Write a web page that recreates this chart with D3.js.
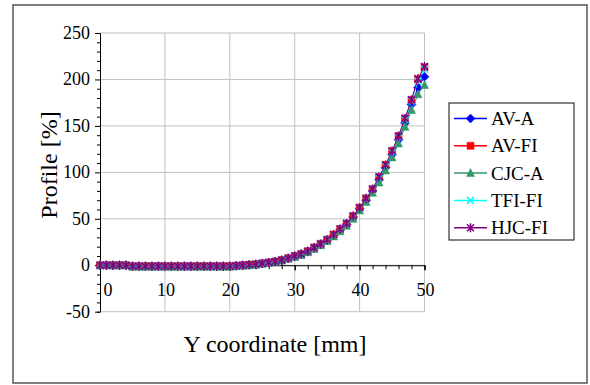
<!DOCTYPE html>
<html>
<head>
<meta charset="utf-8">
<script src="https://cdn.jsdelivr.net/npm/d3@7"></script>
<style>
  body { margin: 0; background: #fff; }
  svg text { font-family: 'Liberation Serif', 'Times New Roman', serif; fill: #000; }
</style>
</head>
<body>
<div id="chart"></div>
<script>
const yCoord = [0, 1, 2, 3, 4, 5, 6, 7, 8, 9, 10, 11, 12, 13, 14, 15, 16, 17, 18, 19, 20,
  21, 22, 23, 24, 25, 26, 27, 28, 29, 30, 31, 32, 33, 34, 35, 36, 37, 38, 39, 40,
  41, 42, 43, 44, 45, 46, 47, 48, 49, 50]

const avA = [0, 0, 0, 0, 0, -1, -1, -1, -1, -1, -1, -1, -1, -1, -1, -1, -1, -1, -1, -1, -1,
  -0.5, 0, 0.5, 1, 2, 3, 4, 5.5, 7.5, 9.5, 12, 15, 18.5, 22.5, 27, 32, 38, 44, 52, 61,
  70, 80, 92, 105, 119, 135, 153, 173, 191, 203]
const avFI = [0, 0, 0, 0, 0, -1, -1, -1, -1, -1, -1, -1, -1, -1, -1, -1, -1, -1, -1, -1, -1,
  -0.5, 0, 0.5, 1, 2, 3, 4, 5.5, 7.5, 10, 12, 15, 19, 23, 27.5, 33, 39, 45, 53, 62,
  72, 82, 95, 108, 123, 139, 158, 178, 200, 213]
const cjcA = [0, 0, 0, 0, 0, -1.5, -1.5, -1.5, -1.5, -1.5, -1.5, -1.5, -1.5, -1.5, -1.5, -1.5, -1.5, -1.5, -1.5, -1.5, -1.5,
  -1, -0.5, 0, 0.5, 1.5, 2.5, 3.5, 5, 7, 9, 11, 14, 17.5, 21.5, 26, 31, 36.5, 42.5, 50, 59,
  68, 78, 89, 102, 116, 131, 149, 167, 184, 194]
const tfiFI = [0, 0, 0, 0, 0, -1, -1, -1, -1, -1, -1, -1, -1, -1, -1, -1, -1, -1, -1, -1, -1,
  -0.5, 0, 0.5, 1, 2, 3, 4, 5.5, 7.5, 10, 12, 15, 19, 23, 27.5, 33, 39, 45, 53, 62,
  72, 82, 94, 107, 122, 138, 157, 177, 198, 211]
const hjcFI = [0, 0, 0, 0, 0, -1, -1, -1, -1, -1, -1, -1, -1, -1, -1, -1, -1, -1, -1, -1, -1,
  -0.5, 0, 0.5, 1, 2, 3, 4, 5.5, 7.5, 10, 12, 15, 19, 23, 27.5, 33, 39, 45, 53, 62,
  72, 82, 95, 108, 123, 139, 158, 178, 201, 214]

const seriesNames = ['AV-A', 'AV-FI', 'CJC-A', 'TFI-FI', 'HJC-FI']
const seriesValues = [avA, avFI, cjcA, tfiFI, hjcFI]
const seriesColors = ['#0000ff', '#ff0000', '#339966', '#00ffff', '#800080']
const seriesMarkers = ['diamond', 'square', 'triangle', 'x', 'star']

const xTicks = [0, 10, 20, 30, 40, 50]
const yTicks = [-50, 0, 50, 100, 150, 200, 250]

const serif = "'Liberation Serif', 'Times New Roman', serif"
const width = 590
const height = 385
const plot = { left: 100, right: 424.5, top: 33, bottom: 311.7 }

const svg = d3
  .select('#chart')
  .append('svg')
  .attr('width', width)
  .attr('height', height)

// outer frame
svg
  .append('rect')
  .attr('x', 13)
  .attr('y', 5)
  .attr('width', 574)
  .attr('height', 378)
  .attr('fill', '#fff')
  .attr('stroke', '#555')
  .attr('stroke-width', 1.5)

const xScale = d3.scaleLinear().domain([0, 50]).range([plot.left, plot.right])
const yScale = d3.scaleLinear().domain([-50, 250]).range([plot.bottom, plot.top])

// gridlines
svg
  .append('g')
  .selectAll('line')
  .data(xTicks.filter(d => d > 0))
  .enter()
  .append('line')
  .attr('x1', d => xScale(d))
  .attr('x2', d => xScale(d))
  .attr('y1', plot.top)
  .attr('y2', plot.bottom)
  .attr('stroke', '#c0c0c0')

svg
  .append('g')
  .selectAll('line')
  .data(yTicks)
  .enter()
  .append('line')
  .attr('x1', plot.left)
  .attr('x2', plot.right)
  .attr('y1', d => yScale(d))
  .attr('y2', d => yScale(d))
  .attr('stroke', '#c0c0c0')

// y axis
const yAxis = d3
  .axisLeft(yScale)
  .tickValues(d3.range(-50, 251, 10))
  .tickSize(3)
  .tickFormat('')
svg
  .append('g')
  .attr('transform', 'translate(' + plot.left + ',0)')
  .call(yAxis)
  .call(g => g.select('.domain').attr('stroke', '#000'))
  .call(g => g.selectAll('.tick line').attr('stroke', '#000')
    .attr('x2', d => (d % 50 === 0 ? -5 : -3)))

svg
  .append('g')
  .selectAll('text')
  .data(yTicks)
  .enter()
  .append('text')
  .attr('x', plot.left - 10)
  .attr('y', d => yScale(d) + 6)
  .attr('text-anchor', 'end')
  .attr('font-family', serif)
  .attr('font-size', 18)
  .text(d => d)

// x axis, crossing at 0
const xAxis = d3
  .axisBottom(xScale)
  .tickValues(d3.range(0, 51, 2).concat(xTicks))
  .tickSize(4)
  .tickFormat('')
svg
  .append('g')
  .attr('transform', 'translate(0,' + yScale(0) + ')')
  .call(xAxis)
  .call(g => g.select('.domain').attr('stroke', '#000'))
  .call(g => g.selectAll('.tick line').attr('stroke', '#000')
    .attr('y2', d => (d % 10 === 0 ? 5 : 4)))

svg
  .append('g')
  .selectAll('text')
  .data(xTicks)
  .enter()
  .append('text')
  .attr('x', d => xScale(d) + (d === 0 ? 8 : 1))
  .attr('y', yScale(0) + 31)
  .attr('text-anchor', 'middle')
  .attr('font-family', serif)
  .attr('font-size', 18)
  .text(d => d)

// axis titles
svg
  .append('text')
  .attr('transform', 'translate(57,165) rotate(-90)')
  .attr('text-anchor', 'middle')
  .attr('font-family', serif)
  .attr('font-size', 24)
  .text('Profile [%]')

svg
  .append('text')
  .attr('x', 275)
  .attr('y', 352)
  .attr('text-anchor', 'middle')
  .attr('font-family', serif)
  .attr('font-size', 24)
  .text('Y coordinate [mm]')

// marker shapes
function markerPath(type) {
  if (type === 'diamond') return 'M0,-4.5L4.5,0L0,4.5L-4.5,0Z'
  if (type === 'square') return 'M-3.5,-3.5H3.5V3.5H-3.5Z'
  if (type === 'triangle') return 'M0,-4.5L4,3.5H-4Z'
  if (type === 'x') return 'M-3.5,-3.5L3.5,3.5M-3.5,3.5L3.5,-3.5'
  return 'M-3.5,-3.5L3.5,3.5M-3.5,3.5L3.5,-3.5M0,-4.5V4.5'
}
function isStroked(type) {
  return type === 'x' || type === 'star'
}

const line = d3
  .line()
  .x(d => xScale(d.x))
  .y(d => yScale(d.y))

seriesValues.forEach((values, i) => {
  const pts = yCoord.map((x, j) => ({ x: x, y: values[j] }))
  const g = svg.append('g')
  g.append('path')
    .datum(pts)
    .attr('d', line)
    .attr('fill', 'none')
    .attr('stroke', seriesColors[i])
    .attr('stroke-width', 1)
  g.selectAll('.marker')
    .data(pts)
    .enter()
    .append('path')
    .attr('class', 'marker')
    .attr('transform', d => 'translate(' + xScale(d.x) + ',' + yScale(d.y) + ')')
    .attr('d', markerPath(seriesMarkers[i]))
    .attr('fill', isStroked(seriesMarkers[i]) ? 'none' : seriesColors[i])
    .attr('stroke', seriesColors[i])
    .attr('stroke-width', isStroked(seriesMarkers[i]) ? 1.5 : 0.5)
})

// legend
const legend = svg.append('g').attr('transform', 'translate(449,103)')
legend
  .append('rect')
  .attr('width', 125)
  .attr('height', 137)
  .attr('fill', '#fff')
  .attr('stroke', '#333')
  .attr('stroke-width', 1.2)

seriesNames.forEach((name, i) => {
  const cy = 15.5 + i * 27.3
  const row = legend.append('g')
  row.append('line')
    .attr('x1', 5)
    .attr('x2', 38)
    .attr('y1', cy)
    .attr('y2', cy)
    .attr('stroke', seriesColors[i])
    .attr('stroke-width', 1.5)
  row.append('path')
    .attr('transform', 'translate(21.5,' + cy + ')')
    .attr('d', markerPath(seriesMarkers[i]))
    .attr('fill', isStroked(seriesMarkers[i]) ? 'none' : seriesColors[i])
    .attr('stroke', seriesColors[i])
    .attr('stroke-width', isStroked(seriesMarkers[i]) ? 1.5 : 0.5)
  row.append('text')
    .attr('x', 42)
    .attr('y', cy + 6.5)
    .attr('font-family', serif)
    .attr('font-size', 19)
    .text(name)
})
</script>
</body>
</html>
